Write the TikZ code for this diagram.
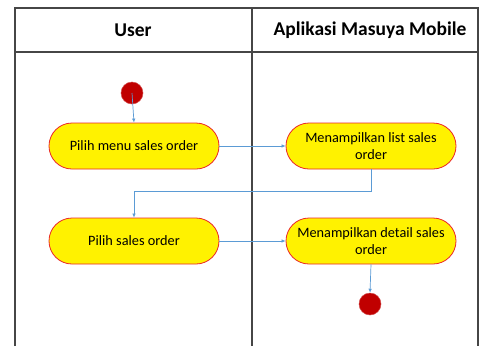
\documentclass[tikz,border=0pt]{standalone}
\usepackage{fontspec}
\setmainfont{Carlito}
\usetikzlibrary{arrows.meta}
\definecolor{flowblue}{RGB}{91,155,213}
\definecolor{nodered}{RGB}{235,40,40}
\definecolor{dotred}{RGB}{192,0,0}
\definecolor{linegray}{RGB}{70,70,70}
\newcommand\myactfont{\fontsize{14.3}{16.5}\selectfont\hyphenpenalty=10000\relax}
\begin{document}
\begin{tikzpicture}[x=1pt,y=-1pt,
  action/.style={draw=nodered, line width=0.8pt, fill=yellow, rounded corners=23pt,
    minimum width=170pt, minimum height=46pt, text width=160pt, align=flush center,
    font=\myactfont, inner sep=0pt},
  dot/.style={circle, fill=dotred, draw=dotred!70!white, line width=0.5pt, minimum size=22pt, inner sep=0pt},
  flow/.style={draw=flowblue, line width=0.7pt, -{Latex[length=4pt,width=3.5pt]}},
  lane/.style={draw=linegray, line width=1.3pt},
  header/.style={font=\bfseries\fontsize{19.5}{21}\selectfont}]
\useasboundingbox (0,0) rectangle (479,346);
\fill[white] (0,0) rectangle (479,346);
% swimlane table
\draw[lane] (15,346) -- (15,8) -- (478,8) -- (478,346);
\draw[lane] (15,52) -- (478,52);
\draw[lane] (252,8) -- (252,346);
\node[header] (h1) at (133,30) {User};
\node[header] (h2) at (370,30) {Aplikasi Masuya Mobile};
% nodes
\node[dot] (start) at (132,93) {};
\node[action] (a1) at (134,146) {Pilih menu sales order};
\node[action] (a2) at (371,146) {Menampilkan list sales order};
\node[action] (a3) at (134,241) {Pilih sales order};
\node[action] (a4) at (371,241) {Menampilkan detail sales order};
\node[dot] (end) at (370,304) {};
\coordinate (bendR) at (371,191);
\coordinate (bendL) at (134,191);
% connectors
\draw[flow] (start.center) -- (a1.north);
\draw[flow] (a1.east) -- (a2.west);
\draw[flow] (a2.south) -- (bendR) -- (bendL) -- (a3.north);
\draw[flow] (a3.east) -- (a4.west);
\draw[flow] (a4.south) -- (end.north);
\end{tikzpicture}
\end{document}
